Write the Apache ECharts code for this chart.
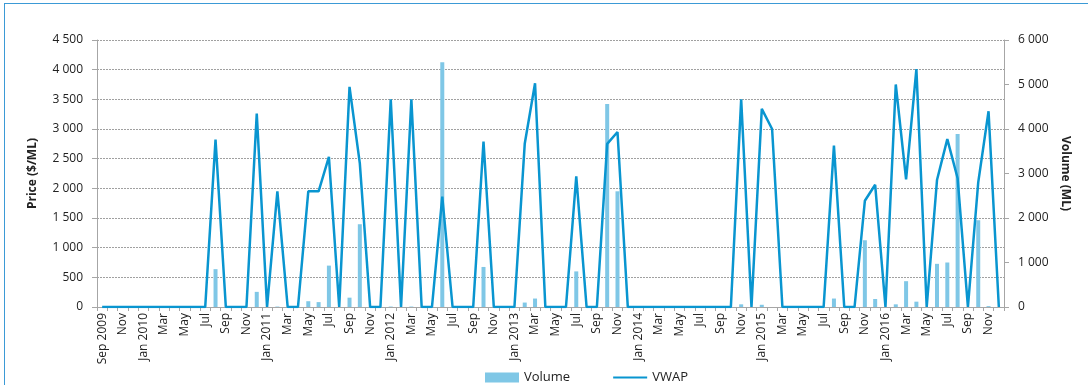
<!DOCTYPE html>
<html>
<head>
<meta charset="utf-8">
<script src="https://cdn.jsdelivr.net/npm/echarts@6/dist/echarts.min.js"></script>
<style>
  html, body { margin: 0; padding: 0; background: #fff; }
  #frame { position: absolute; left: 4px; top: 3px; width: 1100px; height: 400px;
           border-left: 1px solid #3b9ad6; border-top: 1px solid #3b9ad6; }
  #mychart { position: absolute; left: 0; top: 0; width: 1088px; height: 385px; }
</style>
</head>
<body>
<div id="frame"></div>
<div id="mychart"></div>
<script>
// months Sep 2009 .. Dec 2016
const monthNames = ['Jan','Feb','Mar','Apr','May','Jun','Jul','Aug','Sep','Oct','Nov','Dec'];
const startYear = 2009, startMonth = 8, monthCount = 88;

// VWAP price ($/ML)
const vwap = [
  0, 0, 0, 0, 0, 0, 0, 0, 0, 0,            // Sep 2009 - Jun 2010
  0, 2820, 0, 0, 0, 3260,                  // Jul - Dec 2010
  0, 1950, 0, 0, 1950, 1950, 2530, 0, 3710, 2420, 0, 0,   // 2011
  3500, 0, 3500, 0, 0, 1860, 0, 0, 0, 2790, 0, 0,         // 2012
  0, 2750, 3770, 0, 0, 0, 2200, 0, 0, 2750, 2950, 0,      // 2013
  0, 0, 0, 0, 0, 0, 0, 0, 0, 0, 3500, 0,                  // 2014
  3340, 3000, 0, 0, 0, 0, 0, 2720, 0, 0, 1790, 2060,      // 2015
  0, 3750, 2150, 4010, 0, 2140, 2830, 2170, 0, 2100, 3300, 0  // 2016
];

// traded volume (ML)
const volume = [
  0, 0, 0, 0, 0, 0, 0, 0, 0, 0,
  0, 850, 0, 0, 0, 340,
  0, 10, 0, 0, 130, 110, 930, 0, 210, 1860, 0, 0,
  10, 0, 10, 0, 0, 5500, 0, 0, 0, 900, 0, 0,
  0, 100, 190, 0, 0, 0, 800, 0, 0, 4560, 2600, 0,
  0, 0, 0, 0, 0, 0, 0, 0, 0, 0, 60, 0,
  50, 0, 0, 0, 0, 0, 0, 190, 0, 0, 1500, 180,
  0, 60, 580, 120, 0, 970, 1000, 3890, 0, 1950, 20, 0
];

const categories = [];
for (let k = 0; k < monthCount; k++) {
  const m = (startMonth + k) % 12;
  const y = startYear + Math.floor((startMonth + k) / 12);
  categories.push(k === 0 || m === 0 ? monthNames[m] + ' ' + y : monthNames[m]);
}

const fmt = v => String(v).replace(/\B(?=(\d{3})+(?!\d))/g, ' ');
const font = '"Open Sans", sans-serif';
const axisGrey = '#a6a6a6';

const option = {
  animation: false,
  textStyle: { fontFamily: font },
  grid: { left: 97, right: 84, top: 40, bottom: 78 },
  legend: {
    left: 480, top: 366,
    itemWidth: 34, itemHeight: 10, itemGap: 42,
    textStyle: { fontFamily: font, fontSize: 13, color: '#222' },
    data: [
      { name: 'Volume', icon: 'rect' },
      { name: 'VWAP', itemStyle: { opacity: 0 } }
    ]
  },
  xAxis: {
    type: 'category',
    data: categories,
    boundaryGap: true,
    axisLine: { show: true, lineStyle: { color: axisGrey } },
    axisTick: { show: true, interval: 0, length: 4, lineStyle: { color: axisGrey } },
    axisLabel: { interval: 1, rotate: 90, margin: 6, fontSize: 12, color: '#222', fontFamily: font },
    splitLine: { show: false }
  },
  yAxis: [
    {
      type: 'value', min: 0, max: 4500, interval: 500,
      name: 'Price ($/ML)', nameLocation: 'middle', nameGap: 58, nameRotate: 90,
      nameTextStyle: { fontWeight: 'bold', fontSize: 12, color: '#222', fontFamily: font },
      axisLine: { show: true, lineStyle: { color: axisGrey } },
      axisTick: { show: true, length: 5, lineStyle: { color: axisGrey } },
      axisLabel: { margin: 14, fontSize: 12, color: '#222', formatter: fmt, fontFamily: font },
      splitLine: { show: true, lineStyle: { color: '#a0a0a0', type: [2, 1], width: 1 } }
    },
    {
      type: 'value', min: 0, max: 6000, interval: 1000,
      name: 'Volume (ML)', nameLocation: 'middle', nameGap: 54, nameRotate: -90,
      nameTextStyle: { fontWeight: 'bold', fontSize: 12, color: '#222', fontFamily: font },
      axisLine: { show: true, lineStyle: { color: axisGrey } },
      axisTick: { show: true, length: 5, lineStyle: { color: axisGrey } },
      axisLabel: { margin: 14, fontSize: 12, color: '#222', formatter: fmt, fontFamily: font },
      splitLine: { show: false }
    }
  ],
  series: [
    {
      name: 'Volume',
      type: 'bar',
      yAxisIndex: 1,
      data: volume,
      barWidth: 4,
      itemStyle: { color: '#7fc7e6' },
      z: 1
    },
    {
      name: 'VWAP',
      type: 'line',
      yAxisIndex: 0,
      data: vwap,
      symbol: 'none',
      lineStyle: { color: '#0995d0', width: 2.5 },
      itemStyle: { color: '#0995d0' },
      z: 3
    }
  ]
};

const myChart = echarts.init(document.getElementById('mychart'));
myChart.setOption(option);
</script>
</body>
</html>
